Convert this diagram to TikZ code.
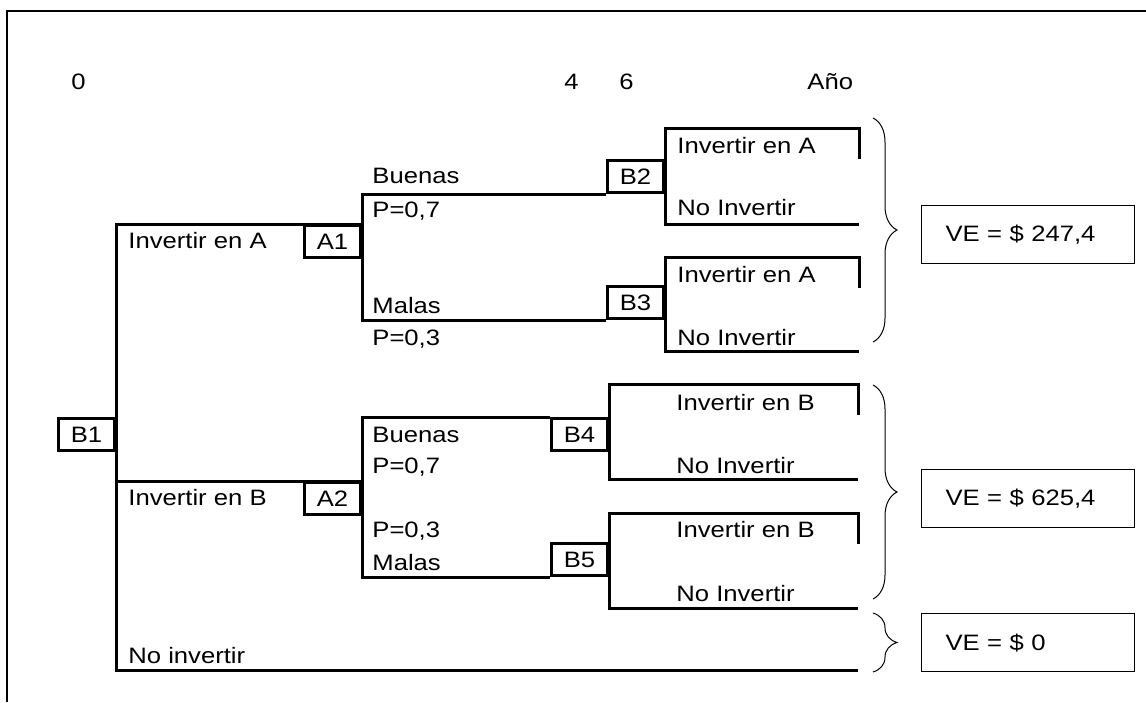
\documentclass[tikz,border=0pt]{standalone}
\usepackage{fontspec}
\setmainfont{Liberation Sans}[FakeStretch=1.15]
\usetikzlibrary{decorations.pathreplacing,calc}

\begin{document}
\begin{tikzpicture}[x=0.5pt,y=-0.5pt,font=\fontsize{11.15}{13}\selectfont,
  rama/.style={line width=1.5pt},
  caja/.style={draw,line width=1.5pt,minimum width=28pt,minimum height=16pt,inner sep=0pt},
  etq/.style={anchor=base west,inner sep=0pt},
  llave/.style={decorate,decoration={brace,amplitude=12pt},line width=0.5pt},
  valor/.style={draw,line width=0.6pt,anchor=north west,minimum height=29pt,text width=82.5pt,inner xsep=12pt,align=left}]

\useasboundingbox (0,0) rectangle (1146,702);
\draw[line width=0.9pt] (7,702) -- (7,11) -- (1146,11);

% años
\node[etq] (t0) at (71,89) {0};
\node[etq] (t4) at (564,89) {4};
\node[etq] (t6) at (619,89) {6};
\node[etq] (tano) at (807,89) {Año};

% nodos de decision y de azar
\node[caja,anchor=north east] (B1) at (116,417) {B1};
\node[caja,anchor=north east] (A1) at (362,224) {A1};
\node[caja,anchor=north east] (A2) at (362,481) {A2};
\node[caja,anchor=south east] (B2) at (665,194) {B2};
\node[caja,anchor=south east] (B3) at (665,320) {B3};
\node[caja,anchor=north east] (B4) at (609,417) {B4};
\node[caja,anchor=south east] (B5) at (609,577) {B5};

\coordinate (fin) at (858,670);

% ramas
\draw[rama] (A1.north east) -| (B1.north east) -- (B1.north east |- fin) -- (fin);
\draw[rama] (B1.east |- A2.north) -- (A2.north east);
\draw[rama] (B2.south west) -| (A1.east) |- (B3.south west);
\draw[rama] (B4.north west) -| (A2.east) |- (B5.south west);
\foreach \b/\ya/\yb/\xe in {B2/128/224/859,B3/257/351/859,B4/384/479/858,B5/513/608/858}
  \draw[rama] (\xe,{\ya+31}) -- (\xe,\ya) -| (\b.east) |- (\xe,\yb);

% textos de las ramas
\node[etq] (la) at (128,248) {Invertir en A};
\node[etq] (lb) at (128,505) {Invertir en B};
\node[etq] (ln) at (128,663) {No invertir};

\node[etq] (bu1) at (372,183) {Buenas};
\node[etq] (p71) at (372,217) {P=0,7};
\node[etq] (ma1) at (372,313) {Malas};
\node[etq] (p31) at (372,345) {P=0,3};
\node[etq] (bu2) at (372,442) {Buenas};
\node[etq] (p72) at (372,473) {P=0,7};
\node[etq] (p32) at (372,537) {P=0,3};
\node[etq] (ma2) at (372,570) {Malas};

\node[etq] (ia1) at (677,153) {Invertir en A};
\node[etq] (na1) at (677,215) {No Invertir};
\node[etq] (ia2) at (677,282) {Invertir en A};
\node[etq] (na2) at (677,345) {No Invertir};
\node[etq] (ib1) at (676,410) {Invertir en B};
\node[etq] (nb1) at (676,473) {No Invertir};
\node[etq] (ib2) at (676,537) {Invertir en B};
\node[etq] (nb2) at (676,601) {No Invertir};

% valores esperados
\draw[llave] (873,118) -- (873,342);
\draw[llave] (873,385) -- (873,599);
\draw[llave] (873,613) -- (873,672);
\node[valor] (ve1) at (921,205) {VE = \$ 247,4};
\node[valor] (ve2) at (921,469) {VE = \$ 625,4};
\node[valor] (ve3) at (921,613) {VE = \$ 0};

\end{tikzpicture}
\end{document}
